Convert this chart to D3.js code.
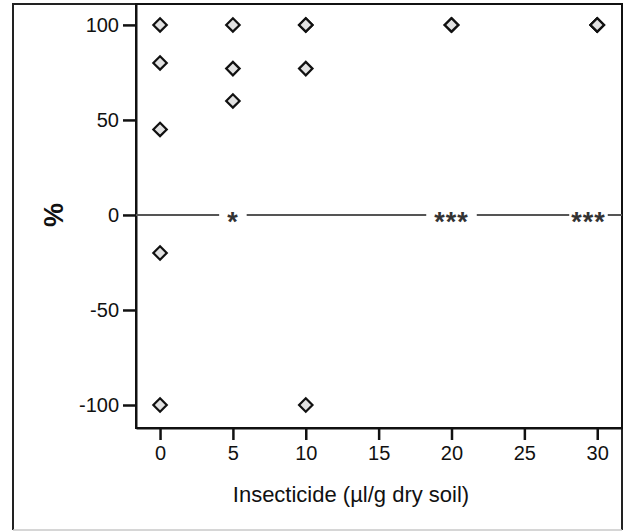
<!DOCTYPE html>
<html>
<head>
<meta charset="utf-8">
<script src="https://cdn.jsdelivr.net/npm/d3@7"></script>
<style>
  body { margin: 0; background: #fff; }
  svg { display: block; font-family: Arial, "Liberation Sans", sans-serif; }
</style>
</head>
<body>
<div id="chart"></div>
<script>
var doses   = [0, 0, 0, 0, 0,   5, 5, 5,   10, 10, 10, 10,   20, 20, 20,   30, 30, 30];
var percent = [100, 80, 45, -20, -100,   100, 77, 60,   100, 100, 77, -100,   100, 100, 100,   100, 100, 100];

// significance markers sitting on the zero line
var sigDose   = [5, 20, 29.4];
var sigLabels = ["*", "***", "***"];
var sigPad    = [8, 8, 2];

var xTicks = [0, 5, 10, 15, 20, 25, 30];
var yTicks = [-100, -50, 0, 50, 100];

var width = 629, height = 532;
var plot = {left: 136, right: 622, top: 4, bottom: 428};

var svg = d3.select("#chart").append("svg")
    .attr("width", width)
    .attr("height", height);

// outer frame (bottom edge is faint in the original)
svg.append("path")
    .attr("d", "M13,530V4H622V530")
    .attr("fill", "none")
    .attr("stroke", "#222")
    .attr("stroke-width", 2);
svg.append("line")
    .attr("x1", 13).attr("x2", 622)
    .attr("y1", 530).attr("y2", 530)
    .attr("stroke", "#c8c8c8")
    .attr("stroke-width", 1.5);

var x = d3.scaleLinear()
    .domain([-1.65, 31.7])
    .range([plot.left, plot.right]);

var y = d3.scaleLinear()
    .domain([-112.1, 111])
    .range([plot.bottom, plot.top]);

// plot box
svg.append("rect")
    .attr("x", plot.left).attr("y", plot.top)
    .attr("width", plot.right - plot.left)
    .attr("height", plot.bottom - plot.top)
    .attr("fill", "none")
    .attr("stroke", "#111")
    .attr("stroke-width", 2);

// plain hyphen for negatives, like the original
var fmt = function(d) { return String(d); };

var xAxis = d3.axisBottom(x).tickValues(xTicks).tickFormat(fmt).tickSize(12).tickPadding(6).tickSizeOuter(0);
var yAxis = d3.axisLeft(y).tickValues(yTicks).tickFormat(fmt).tickSize(13).tickPadding(4).tickSizeOuter(0);

var gx = svg.append("g")
    .attr("transform", "translate(0," + plot.bottom + ")")
    .call(xAxis);
var gy = svg.append("g")
    .attr("transform", "translate(" + plot.left + ",0)")
    .call(yAxis);

[gx, gy].forEach(function(g) {
	g.select(".domain").attr("stroke", "#111").attr("stroke-width", 2);
	g.selectAll(".tick line").attr("stroke", "#111").attr("stroke-width", 2.5);
	g.selectAll(".tick text")
		.attr("fill", "#111")
		.style("font-size", "20px")
		.style("font-family", "Arial, 'Liberation Sans', sans-serif");
});

// zero reference line
svg.append("line")
    .attr("x1", plot.left).attr("x2", plot.right)
    .attr("y1", y(0)).attr("y2", y(0))
    .attr("stroke", "#555")
    .attr("stroke-width", 2);

// significance labels with a white gap cut into the line
var sig = svg.selectAll(".sig").data(sigLabels).enter()
    .append("g")
    .attr("class", "sig")
    .attr("transform", function(d, i) { return "translate(" + [x(sigDose[i]), y(0)] + ")"; });

sig.append("text")
    .attr("text-anchor", "middle")
    .attr("dy", "0.6em")
    .attr("fill", "#333")
    .style("font-size", "27px")
    .style("font-weight", "bold")
    .style("letter-spacing", "1px")
    .text(function(d) { return d; });

sig.each(function(d, i) {
	var g = d3.select(this);
	var bb = g.select("text").node().getBBox();
	g.insert("rect", "text")
		.attr("x", bb.x - sigPad[i])
		.attr("y", -4)
		.attr("width", bb.width + 2 * sigPad[i])
		.attr("height", 8)
		.attr("fill", "#fff");
});

// diamonds
var diamond = d3.symbol().type(d3.symbolDiamond2).size(115);
svg.selectAll(".pt").data(percent).enter()
    .append("path")
    .attr("class", "pt")
    .attr("d", diamond)
    .attr("transform", function(d, i) { return "translate(" + [x(doses[i]), y(d)] + ")"; })
    .attr("fill", "#e2e2e2")
    .attr("stroke", "#111")
    .attr("stroke-width", 2.2);

// axis titles
svg.append("text")
    .attr("x", 351)
    .attr("y", 502)
    .attr("text-anchor", "middle")
    .attr("fill", "#111")
    .style("font-size", "22px")
    .text("Insecticide (\u00b5l/g dry soil)");

svg.append("text")
    .attr("transform", "translate(" + [63, y(0)] + ") rotate(-90)")
    .attr("text-anchor", "middle")
    .attr("fill", "#111")
    .style("font-size", "27px")
    .style("font-weight", "bold")
    .text("%");
</script>
</body>
</html>
